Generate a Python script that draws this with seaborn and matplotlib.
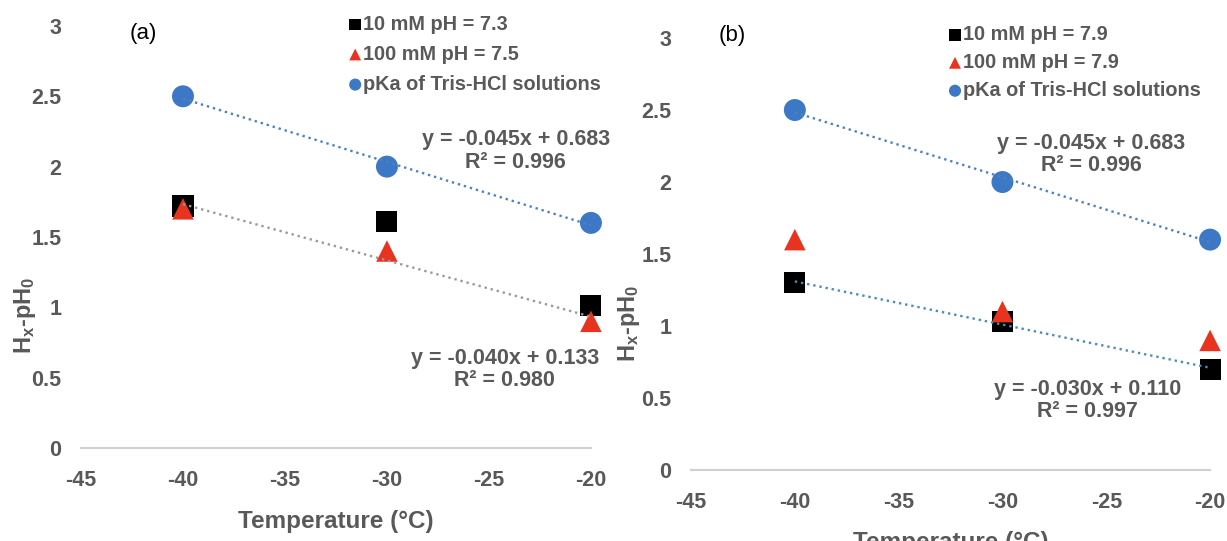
"""Tris-HCl buffers: shift of H_x - pH_0 against temperature, two panels (a) and (b)."""
import matplotlib
matplotlib.use("Agg")
import matplotlib.pyplot as plt
import numpy as np
import seaborn as sns
from matplotlib.ticker import FormatStrFormatter

sns.set_style("white")
plt.rcParams["font.family"] = ["Liberation Sans", "DejaVu Sans"]
plt.rcParams["axes.unicode_minus"] = False
plt.rcParams["mathtext.fontset"] = "custom"
plt.rcParams["mathtext.bf"] = "Liberation Sans:bold"
plt.rcParams["mathtext.rm"] = "Liberation Sans"

# ---- data ----
TEMPS = [-40, -30, -20]

A_10MM = [1.72, 1.61, 1.01]
A_100MM = [1.70, 1.40, 0.90]
B_10MM = [1.30, 1.03, 0.70]
B_100MM = [1.60, 1.10, 0.90]
PKA = [2.50, 2.00, 1.60]

A_LABELS = ["10 mM pH = 7.3", "100 mM pH = 7.5", "pKa of Tris-HCl solutions"]
B_LABELS = ["10 mM pH = 7.9", "100 mM pH = 7.9", "pKa of Tris-HCl solutions"]

X_TICKS = [-45, -40, -35, -30, -25, -20]
Y_TICKS = [0, 0.5, 1, 1.5, 2, 2.5, 3]

GREY_TXT = "#595959"
BLACK = "#000000"
RED = "#E8331F"
BLUE = "#3D78C6"


def fit_text(x, y):
    m, b = np.polyfit(x, y, 1)
    r2 = np.corrcoef(x, y)[0, 1] ** 2
    sign = "+" if b >= 0 else "-"
    return f"y = {m:.3f}x {sign} {abs(b):.3f}\nR² = {r2:.3f}"


def draw_panel(ax, sq, tri, labels, low_y, low_color, up_pos, low_pos, leg_anchor, leg_sp,
               ylab_xy, xlab_y):
    sns.scatterplot(x=TEMPS, y=sq, marker="s", color=BLACK, s=230, edgecolor="none",
                    ax=ax, label=labels[0], clip_on=False, zorder=1)
    sns.scatterplot(x=TEMPS, y=tri, marker="^", color=RED, s=240, edgecolor="none",
                    ax=ax, label=labels[1], clip_on=False, zorder=1)
    sns.scatterplot(x=TEMPS, y=PKA, marker="o", color=BLUE, s=250, edgecolor="none",
                    ax=ax, label=labels[2], clip_on=False, zorder=1)

    # dotted linear trendlines
    sns.regplot(x=TEMPS, y=PKA, scatter=False, ci=None, truncate=True, ax=ax,
                line_kws=dict(ls=":", lw=1.7, color="#4F81BD"))
    sns.regplot(x=TEMPS, y=low_y, scatter=False, ci=None, truncate=True, ax=ax,
                line_kws=dict(ls=":", lw=1.7, color=low_color))

    ax.text(*up_pos, fit_text(TEMPS, PKA), ha="center", va="center", fontsize=15.5,
            fontweight="bold", color=GREY_TXT, linespacing=1.1)
    ax.text(*low_pos, fit_text(TEMPS, low_y), ha="center", va="center", fontsize=15.5,
            fontweight="bold", color=GREY_TXT, linespacing=1.1)

    ax.set_xlim(-45, -20)
    ax.set_ylim(0, 3)
    ax.set_xticks(X_TICKS)
    ax.set_yticks(Y_TICKS)
    ax.yaxis.set_major_formatter(FormatStrFormatter("%g"))
    ax.tick_params(axis="both", length=0, labelsize=15.5, labelcolor=GREY_TXT)
    ax.tick_params(axis="x", pad=16)
    ax.tick_params(axis="y", pad=14)
    for lbl in ax.get_xticklabels() + ax.get_yticklabels():
        lbl.set_fontweight("bold")
    sns.despine(ax=ax, left=True)
    ax.spines["bottom"].set_color("#D0D0D0")
    ax.spines["bottom"].set_linewidth(1.5)
    ax.grid(False)

    ax.set_xlabel("Temperature (°C)", fontsize=17.5, fontweight="bold", color=GREY_TXT)
    ax.xaxis.set_label_coords(0.5, xlab_y)
    ax.set_ylabel(r"$\mathbf{H_x}$-$\mathbf{pH_0}$", fontsize=17, fontweight="bold", color=GREY_TXT)
    ax.yaxis.set_label_coords(*ylab_xy)

    leg = ax.legend(loc="upper left", bbox_to_anchor=leg_anchor, frameon=False, fontsize=14.3,
                    markerscale=0.55, handlelength=0.5, handletextpad=0.15, borderpad=0,
                    borderaxespad=0, labelspacing=leg_sp)
    for t in leg.get_texts():
        t.set_fontweight("bold")
        t.set_color(GREY_TXT)


fig = plt.figure(figsize=(12.27, 5.41), dpi=100)
ax_a = fig.add_axes([0.066, 0.172, 0.4156, 0.78])
ax_b = fig.add_axes([0.5632, 0.1312, 0.423, 0.7985])

draw_panel(ax_a, A_10MM, A_100MM, A_LABELS, A_100MM, "#9A9A9A",
           up_pos=(-23.68, 2.11), low_pos=(-24.22, 0.558),
           leg_anchor=(0.528, 1.027), leg_sp=0.56,
           ylab_xy=(-0.084, 0.315), xlab_y=-0.147)
draw_panel(ax_b, B_10MM, B_100MM, B_LABELS, B_10MM, "#4A8DB7",
           up_pos=(-25.73, 2.19), low_pos=(-25.92, 0.483),
           leg_anchor=(0.499, 1.030), leg_sp=0.45,
           ylab_xy=(-0.094, 0.34), xlab_y=-0.141)

fig.text(143 / 1227, 1 - 34 / 541, "(a)", fontsize=16, color="black", ha="center", va="center")
fig.text(732 / 1227, 1 - 36 / 541, "(b)", fontsize=16, color="black", ha="center", va="center")

fig.savefig("out.png", dpi=100)
